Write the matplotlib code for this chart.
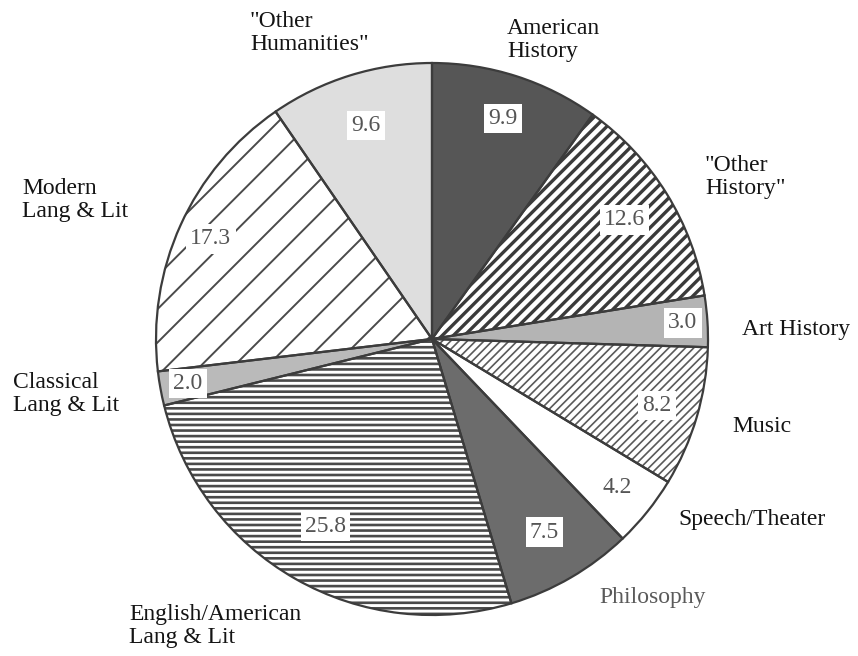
import numpy as np
import matplotlib.pyplot as plt

# Share of humanities degrees by field (percent)
fields = ['American\nHistory', '"Other\nHistory"', 'Art History', 'Music',
          'Speech/Theater', 'Philosophy', 'English/American\nLang & Lit',
          'Classical\nLang & Lit', 'Modern\nLang & Lit', '"Other\nHumanities"']
shares = [9.9, 12.6, 3.0, 8.2, 4.2, 7.5, 25.8, 2.0, 17.3, 9.6]

# Fill style for each wedge: face colour, hatch, hatch colour, hatch width
faces = ['#565656', 'white', '#b4b4b4', 'white', 'white',
         '#6c6c6c', 'white', '#bababa', 'white', '#dedede']
hatches = [None, '///', None, '////', None, None, '---', None, '/', None]
hatch_colors = ['#565656', '#3a3a3a', '#b4b4b4', '#5a5a5a', 'white',
                '#6c6c6c', '#4a4a4a', '#bababa', '#4a4a4a', '#dedede']
hatch_widths = [1, 2.4, 1, 1.2, 1, 1, 1.9, 1, 1.4, 1]

# radial position of the number boxes, as a fraction of the radius
value_dist = [0.84, 0.82, 0.91, 0.85, 0.86, 0.81, 0.78, 0.90, 0.88, 0.81]

# outer category labels (pixel positions: left edge, top or centre)
label_pos = [(507, 18, 'top'), (705, 155, 'top'), (742, 330, 'center'),
             (732, 427, 'center'), (678, 519, 'center'), (599, 598, 'center'),
             (129, 604, 'top'), (13, 372, 'top'), (22, 178, 'top'),
             (250, 11, 'top')]
label_colors = ['#141414'] * 10
label_colors[5] = '#5a5a5a'

W, H = 858, 656
fig = plt.figure(figsize=(W / 100, H / 100), dpi=100)
fig.patch.set_facecolor('white')

cx, cy, r = 432, 339, 276
ax = fig.add_axes([(cx - r) / W, (H - cy - r) / H, 2 * r / W, 2 * r / H])

wedges, _ = ax.pie(shares, startangle=90, counterclock=False, radius=1,
                   colors=faces, wedgeprops=dict(linewidth=0))
for w, h, hc, hw in zip(wedges, hatches, hatch_colors, hatch_widths):
    w.set_edgecolor(hc)
    if h:
        w.set_hatch(h)
        if hasattr(w, 'set_hatch_linewidth'):
            w.set_hatch_linewidth(hw)

# outlines drawn on top
ax.pie(shares, startangle=90, counterclock=False, radius=1,
       wedgeprops=dict(fill=False, edgecolor='#3c3c3c', linewidth=1.6))

ax.set_xlim(-1, 1)
ax.set_ylim(-1, 1)
ax.set_aspect('equal')
ax.axis('off')

# value boxes inside the wedges
total = sum(shares)
start = 90.0
for val, d in zip(shares, value_dist):
    sweep = 360.0 * val / total
    mid = np.deg2rad(start - sweep / 2)
    start -= sweep
    ax.text(d * np.cos(mid), d * np.sin(mid), f'{val:.1f}',
            ha='center', va='center', fontsize=17, color='#555555',
            family='Liberation Serif',
            bbox=dict(facecolor='white', edgecolor='none', pad=3))

for name, (x, y, va), col in zip(fields, label_pos, label_colors):
    fig.text(x / W, 1 - y / H, name, ha='left', va=va, fontsize=17,
             color=col, family='Liberation Serif', linespacing=1.1)

fig.savefig('out.png', dpi=100, facecolor='white')
